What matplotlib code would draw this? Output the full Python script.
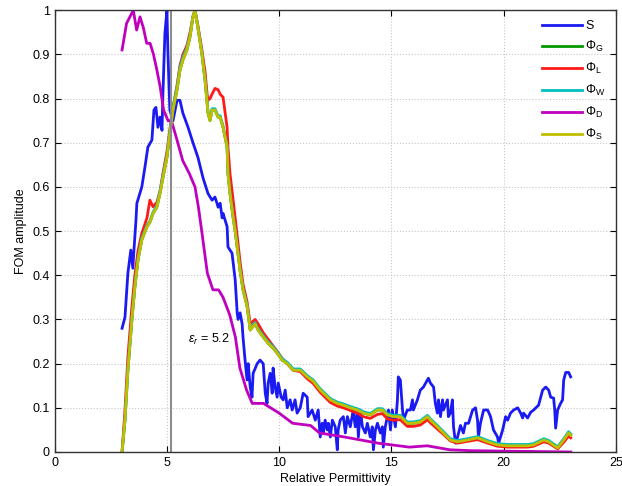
import matplotlib
matplotlib.use('Agg')
import matplotlib.pyplot as plt

plt.rcParams['font.family'] = ['Liberation Sans', 'DejaVu Sans']
plt.rcParams['mathtext.fontset'] = 'custom'
plt.rcParams['mathtext.rm'] = 'Liberation Sans'
plt.rcParams['mathtext.it'] = 'Liberation Sans:italic'

# S (blue), noisy sensitivity curve
s_x = [3.0, 3.13, 3.26, 3.39, 3.48, 3.53, 3.62, 3.66, 3.88, 4.02, 4.15, 4.33, 4.42,
       4.51, 4.60, 4.69, 4.78, 4.82, 4.91, 5.0, 5.04, 5.13, 5.27, 5.45, 5.58, 5.71,
       5.94, 6.16, 6.38, 6.61, 6.83, 7.01, 7.14, 7.23, 7.28, 7.37, 7.46, 7.5, 7.68,
       7.72, 7.9, 8.04, 8.13, 8.17, 8.26, 8.35, 8.39, 8.48, 8.57, 8.62, 8.71, 8.79,
       8.84, 9.02, 9.15, 9.29, 9.38, 9.46, 9.51, 9.6, 9.69, 9.73, 9.82, 9.91, 9.96,
       10.09, 10.18, 10.27, 10.36, 10.49, 10.58, 10.71, 10.8, 10.94, 11.07, 11.25,
       11.29, 11.47, 11.61, 11.74, 11.83, 11.92, 11.96, 12.05, 12.14, 12.19, 12.28,
       12.37, 12.5, 12.59, 12.63, 12.72, 12.86, 12.95, 13.04, 13.17, 13.3, 13.39,
       13.48, 13.53, 13.62, 13.71, 13.84, 13.93, 14.06, 14.15, 14.2, 14.29, 14.38,
       14.51, 14.6, 14.64, 14.73, 14.82, 14.87, 14.96, 15.04, 15.18, 15.27, 15.31,
       15.4, 15.49, 15.54, 15.71, 15.85, 15.94, 15.98, 16.16, 16.29, 16.43, 16.61,
       16.65, 16.74, 16.88, 16.96, 17.05, 17.1, 17.19, 17.28, 17.32, 17.5, 17.54,
       17.63, 17.72, 17.77, 17.86, 17.95, 18.08, 18.21, 18.3, 18.44, 18.62, 18.75,
       18.84, 18.88, 18.97, 19.11, 19.29, 19.42, 19.55, 19.73, 19.78, 19.96, 20.09,
       20.18, 20.31, 20.45, 20.63, 20.76, 20.85, 20.89, 21.07, 21.21, 21.34, 21.56,
       21.74, 21.88, 22.01, 22.1, 22.23, 22.28, 22.32, 22.41, 22.54, 22.63, 22.68,
       22.77, 22.9, 22.99]
s_y = [0.28, 0.305, 0.405, 0.457, 0.416, 0.457, 0.525, 0.563, 0.60, 0.645, 0.69, 0.706,
       0.774, 0.78, 0.735, 0.758, 0.728, 0.81, 0.948, 1.0, 0.91, 0.774, 0.75, 0.796,
       0.796, 0.767, 0.735, 0.70, 0.667, 0.62, 0.585, 0.57, 0.577, 0.563, 0.554, 0.563,
       0.53, 0.54, 0.51, 0.464, 0.45, 0.39, 0.315, 0.30, 0.315, 0.29, 0.26, 0.208,
       0.163, 0.20, 0.147, 0.124, 0.178, 0.20, 0.208, 0.20, 0.133, 0.11, 0.156, 0.178,
       0.133, 0.19, 0.147, 0.124, 0.156, 0.124, 0.118, 0.14, 0.10, 0.118, 0.095, 0.118,
       0.088, 0.10, 0.133, 0.124, 0.08, 0.095, 0.072, 0.095, 0.034, 0.065, 0.043, 0.072,
       0.05, 0.065, 0.034, 0.072, 0.057, 0.005, 0.05, 0.072, 0.08, 0.043, 0.08, 0.057,
       0.095, 0.057, 0.088, 0.034, 0.095, 0.057, 0.043, 0.065, 0.034, 0.057, 0.005,
       0.05, 0.065, 0.043, 0.057, 0.011, 0.057, 0.08, 0.095, 0.05, 0.095, 0.057, 0.118,
       0.17, 0.163, 0.10, 0.072, 0.095, 0.095, 0.118, 0.095, 0.118, 0.14, 0.147, 0.163,
       0.167, 0.156, 0.147, 0.11, 0.088, 0.118, 0.08, 0.118, 0.095, 0.118, 0.08, 0.088,
       0.118, 0.057, 0.02, 0.034, 0.06, 0.043, 0.065, 0.065, 0.095, 0.10, 0.072, 0.034,
       0.065, 0.095, 0.095, 0.08, 0.05, 0.034, 0.02, 0.05, 0.08, 0.072, 0.088, 0.095,
       0.10, 0.088, 0.077, 0.088, 0.077, 0.09, 0.095, 0.106, 0.14, 0.147, 0.14, 0.124,
       0.122, 0.095, 0.054, 0.095, 0.11, 0.118, 0.163, 0.18, 0.18, 0.17]

# Phi curves share one x grid
phi_x = [3.0, 3.13, 3.26, 3.44, 3.57, 3.71, 3.88, 4.11, 4.24, 4.38, 4.55, 4.69, 4.82,
         5.0, 5.13, 5.27, 5.45, 5.58, 5.71, 5.89, 6.03, 6.16, 6.25, 6.38, 6.56, 6.7,
         6.79, 6.83, 6.92, 7.01, 7.14, 7.28, 7.37, 7.5, 7.68, 7.72, 7.81, 7.95, 8.04,
         8.26, 8.39, 8.57, 8.71, 8.93, 9.06, 9.29, 9.51, 9.73, 9.91, 10.13, 10.36,
         10.63, 10.94, 11.25, 11.52, 11.83, 12.28, 12.59, 12.86, 13.17, 13.48, 13.75,
         14.06, 14.38, 14.6, 14.82, 15.09, 15.4, 15.71, 15.98, 16.29, 16.61, 16.74,
         17.05, 17.32, 17.63, 17.95, 18.39, 18.84, 19.29, 19.73, 20.18, 20.63, 21.07,
         21.34, 21.79, 22.01, 22.41, 22.68, 22.9, 22.99]
phi_g = [0.0, 0.072, 0.185, 0.30, 0.373, 0.434, 0.48, 0.51, 0.52, 0.54, 0.554, 0.585,
         0.62, 0.667, 0.72, 0.774, 0.82, 0.864, 0.887, 0.91, 0.94, 0.985, 1.0, 0.96,
         0.90, 0.84, 0.79, 0.767, 0.75, 0.774, 0.774, 0.758, 0.758, 0.735, 0.69, 0.63,
         0.585, 0.53, 0.50, 0.41, 0.367, 0.33, 0.276, 0.29, 0.276, 0.26, 0.246, 0.235,
         0.224, 0.208, 0.20, 0.185, 0.185, 0.17, 0.16, 0.14, 0.118, 0.11, 0.106, 0.10,
         0.095, 0.088, 0.084, 0.095, 0.095, 0.084, 0.08, 0.08, 0.065, 0.065, 0.068,
         0.08, 0.072, 0.057, 0.043, 0.027, 0.023, 0.027, 0.032, 0.023, 0.016, 0.014,
         0.014, 0.014, 0.016, 0.027, 0.023, 0.009, 0.027, 0.043, 0.038]
phi_l = [0.0, 0.095, 0.215, 0.33, 0.40, 0.455, 0.495, 0.53, 0.57, 0.555, 0.565, 0.59,
         0.63, 0.68, 0.73, 0.78, 0.83, 0.875, 0.90, 0.92, 0.95, 0.985, 1.0, 0.965,
         0.91, 0.86, 0.81, 0.796, 0.80, 0.81, 0.823, 0.82, 0.81, 0.803, 0.735, 0.69,
         0.63, 0.57, 0.53, 0.43, 0.38, 0.34, 0.29, 0.30, 0.29, 0.27, 0.255, 0.24,
         0.228, 0.212, 0.20, 0.185, 0.182, 0.166, 0.155, 0.135, 0.112, 0.104, 0.10,
         0.094, 0.088, 0.08, 0.076, 0.085, 0.087, 0.075, 0.072, 0.073, 0.058, 0.058,
         0.061, 0.073, 0.066, 0.052, 0.04, 0.025, 0.02, 0.024, 0.028, 0.02, 0.013,
         0.011, 0.011, 0.011, 0.013, 0.023, 0.02, 0.007, 0.022, 0.036, 0.032]
phi_w = [0.0, 0.074, 0.188, 0.303, 0.377, 0.438, 0.484, 0.513, 0.523, 0.543, 0.558,
         0.59, 0.625, 0.672, 0.725, 0.78, 0.826, 0.87, 0.893, 0.915, 0.944, 0.987, 1.0,
         0.962, 0.903, 0.843, 0.793, 0.77, 0.753, 0.777, 0.777, 0.761, 0.761, 0.738,
         0.693, 0.633, 0.588, 0.533, 0.503, 0.413, 0.37, 0.333, 0.279, 0.293, 0.279,
         0.263, 0.249, 0.238, 0.227, 0.211, 0.203, 0.188, 0.188, 0.173, 0.163, 0.143,
         0.121, 0.113, 0.109, 0.103, 0.098, 0.091, 0.087, 0.098, 0.098, 0.087, 0.083,
         0.083, 0.068, 0.068, 0.071, 0.083, 0.075, 0.06, 0.046, 0.03, 0.026, 0.03,
         0.035, 0.026, 0.019, 0.017, 0.017, 0.017, 0.019, 0.03, 0.026, 0.012, 0.03,
         0.046, 0.041]
phi_s = [0.0, 0.072, 0.185, 0.30, 0.373, 0.434, 0.48, 0.51, 0.52, 0.54, 0.554, 0.585,
         0.62, 0.667, 0.72, 0.774, 0.82, 0.864, 0.887, 0.91, 0.94, 0.985, 1.0, 0.96,
         0.90, 0.84, 0.79, 0.767, 0.75, 0.774, 0.774, 0.758, 0.758, 0.735, 0.69, 0.63,
         0.585, 0.53, 0.50, 0.41, 0.367, 0.33, 0.276, 0.29, 0.276, 0.26, 0.246, 0.235,
         0.224, 0.208, 0.20, 0.185, 0.185, 0.17, 0.16, 0.14, 0.118, 0.11, 0.106, 0.10,
         0.095, 0.088, 0.084, 0.095, 0.095, 0.084, 0.08, 0.08, 0.065, 0.065, 0.068,
         0.08, 0.072, 0.057, 0.043, 0.027, 0.023, 0.027, 0.032, 0.023, 0.016, 0.014,
         0.014, 0.014, 0.016, 0.027, 0.023, 0.009, 0.027, 0.043, 0.038]

# Phi_D (magenta)
d_x = [3.0, 3.2, 3.5, 3.65, 3.8, 3.95, 4.1, 4.25, 4.4, 4.55, 4.7, 4.85, 5.05, 5.2,
       5.45, 5.7, 6.0, 6.25, 6.4, 6.55, 6.8, 7.05, 7.3, 7.5, 7.8, 8.05, 8.25, 8.55,
       8.8, 9.3, 10.0, 10.6, 11.4, 11.8, 12.9, 14.4, 15.8, 16.6, 17.6, 18.5, 20.0,
       21.5, 23.0]
d_y = [0.91, 0.97, 1.0, 0.955, 0.985, 0.96, 0.925, 0.925, 0.90, 0.865, 0.826, 0.774,
       0.75, 0.75, 0.706, 0.66, 0.63, 0.60, 0.555, 0.50, 0.405, 0.367, 0.367, 0.35,
       0.31, 0.26, 0.19, 0.14, 0.11, 0.11, 0.088, 0.065, 0.06, 0.043, 0.034, 0.02,
       0.011, 0.014, 0.005, 0.003, 0.002, 0.001, 0.0]

eps_r = 5.2

fig = plt.figure(figsize=(6.22, 4.86), dpi=100)
ax = fig.add_axes([0.088, 0.07, 0.902, 0.909])

lw = 2.0
ax.plot(s_x, s_y, color=(0.1, 0.1, 0.95), lw=lw, label='S')
ax.plot(phi_x, phi_g, color=(0.0, 0.6, 0.0), lw=lw, label=r'$\Phi_{\mathrm{G}}$')
ax.plot(phi_x, phi_l, color=(1.0, 0.1, 0.1), lw=lw, label=r'$\Phi_{\mathrm{L}}$')
ax.plot(phi_x, phi_w, color=(0.0, 0.75, 0.75), lw=lw, label=r'$\Phi_{\mathrm{W}}$')
ax.plot(d_x, d_y, color=(0.75, 0.0, 0.75), lw=lw, label=r'$\Phi_{\mathrm{D}}$')
ax.plot(phi_x, phi_s, color=(0.75, 0.75, 0.0), lw=lw, label=r'$\Phi_{\mathrm{S}}$')

ax.axvline(eps_r, color='0.55', lw=1.5)
ax.text(5.95, 0.255, r'$\varepsilon_r$ = 5.2', fontsize=9, va='center')

ax.set_xlim(0, 25)
ax.set_ylim(0, 1)
ax.set_xticks([0, 5, 10, 15, 20, 25])
ax.set_yticks([0, 0.1, 0.2, 0.3, 0.4, 0.5, 0.6, 0.7, 0.8, 0.9, 1])
ax.set_yticklabels(['0', '0.1', '0.2', '0.3', '0.4', '0.5', '0.6', '0.7', '0.8', '0.9', '1'])
ax.grid(True, linestyle=':', color='0.78', lw=0.8)
ax.tick_params(direction='in', top=True, right=True, labelsize=9, length=4)
for sp in ax.spines.values():
    sp.set_linewidth(1.0)
    sp.set_color('0.2')

ax.set_xlabel('Relative Permittivity', fontsize=9, labelpad=3)
ax.set_ylabel('FOM amplitude', fontsize=9, labelpad=4)

ax.legend(loc='upper right', frameon=False, fontsize=9, handlelength=3.2,
          labelspacing=0.55, borderaxespad=0.4, handletextpad=0.3)

fig.savefig('out.png', dpi=100)
